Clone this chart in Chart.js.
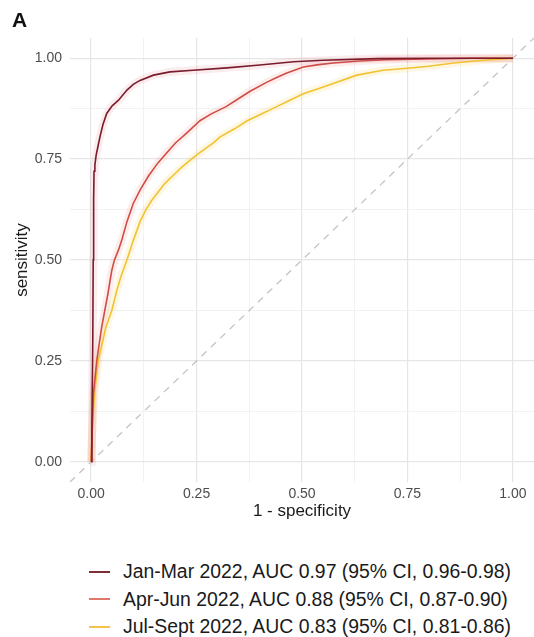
<!DOCTYPE html>
<html>
<head>
<meta charset="utf-8">
<script src="https://cdn.jsdelivr.net/npm/chart.js@4.4.0/dist/chart.umd.min.js"></script>
<style>
  body { margin: 0; background: #fff; font-family: "Liberation Sans", Arial, sans-serif; }
  #wrap { position: relative; width: 534px; height: 637px; overflow: hidden; }
  #chart { position: absolute; left: 0; top: 0; }
  #panel { position: absolute; left: 12px; top: 8px; font-size: 21px; font-weight: bold; color: #111; }
  #legend { position: absolute; left: 89px; top: 558px; }
  .row { display: flex; align-items: center; height: 27.5px; font-size: 19.4px; color: #1a1a1a; white-space: nowrap; }
  .key { width: 21px; height: 2px; margin-right: 13px; }
</style>
</head>
<body>
<div id="wrap">
  <canvas id="chart" width="534" height="530"></canvas>
  <div id="panel">A</div>
  <div id="legend"></div>
</div>
<script>
'use strict';

// ---- ROC curves (x = 1 - specificity, y = sensitivity) ----
const janMarFpr = [0, 0.002, 0.004, 0.005, 0.006, 0.007, 0.009, 0.012, 0.016, 0.021, 0.028, 0.037, 0.05, 0.065, 0.085, 0.1, 0.116, 0.148, 0.187, 0.242, 0.322, 0.40, 0.48, 0.55, 0.68, 0.8, 1.0];
const janMarTpr = [0, 0.10, 0.30, 0.50, 0.65, 0.72, 0.735, 0.76, 0.78, 0.805, 0.835, 0.863, 0.882, 0.896, 0.921, 0.935, 0.945, 0.958, 0.966, 0.970, 0.976, 0.983, 0.991, 0.995, 0.999, 1.0, 1.0];

const aprJunFpr = [0, 0.003, 0.0055, 0.0135, 0.025, 0.040, 0.049, 0.055, 0.065, 0.073, 0.085, 0.1, 0.117, 0.136, 0.158, 0.179, 0.2, 0.227, 0.258, 0.285, 0.32, 0.35, 0.377, 0.416, 0.44, 0.464, 0.503, 0.54, 0.574, 0.637, 0.7, 0.8, 0.9, 1.0];
const aprJunTpr = [0, 0.085, 0.168, 0.251, 0.333, 0.417, 0.474, 0.499, 0.525, 0.55, 0.595, 0.64, 0.675, 0.708, 0.74, 0.765, 0.79, 0.815, 0.845, 0.862, 0.88, 0.9, 0.918, 0.94, 0.952, 0.963, 0.978, 0.984, 0.988, 0.993, 0.996, 0.998, 1.0, 1.0];

const julSepFpr = [0, 0.003, 0.008, 0.017, 0.035, 0.049, 0.061, 0.071, 0.085, 0.1, 0.116, 0.13, 0.144, 0.175, 0.2, 0.215, 0.24, 0.26, 0.29, 0.306, 0.34, 0.37, 0.4, 0.44, 0.47, 0.503, 0.54, 0.574, 0.63, 0.692, 0.75, 0.8, 0.86, 0.93, 1.0];
const julSepTpr = [0, 0.085, 0.168, 0.251, 0.333, 0.375, 0.425, 0.46, 0.5, 0.548, 0.595, 0.625, 0.648, 0.69, 0.715, 0.73, 0.752, 0.768, 0.79, 0.805, 0.825, 0.845, 0.86, 0.88, 0.895, 0.912, 0.925, 0.937, 0.958, 0.97, 0.975, 0.98, 0.988, 0.995, 1.0];

const seriesLabels = [
  'Jan-Mar 2022, AUC 0.97 (95% CI, 0.96-0.98)',
  'Apr-Jun 2022, AUC 0.88 (95% CI, 0.87-0.90)',
  'Jul-Sept 2022, AUC 0.83 (95% CI, 0.81-0.86)',
];
const diagX = [-0.05, 1.05];
const tickValues = [0, 0.125, 0.25, 0.375, 0.5, 0.625, 0.75, 0.875, 1];

const LINE_COLORS = ['#7a1c2c', '#cf4d46', '#f1c232'];
const KEY_COLORS  = ['#7d2d38', '#e0786a', '#f5c24c'];
const BAND_COLORS = ['rgba(225,110,120,0.13)', 'rgba(235,120,110,0.13)', 'rgba(250,205,80,0.16)'];
const FONT = '"Liberation Sans", Arial, sans-serif';

function pts(xs, ys) { return xs.map((x, i) => ({ x, y: ys[i] })); }
const isMajor = v => Math.abs(v * 4 - Math.round(v * 4)) < 1e-9;

const curves = [pts(janMarFpr, janMarTpr), pts(aprJunFpr, aprJunTpr), pts(julSepFpr, julSepTpr)];

const datasets = [];
curves.forEach((d, i) => datasets.push({
  label: seriesLabels[i], data: d, borderColor: LINE_COLORS[i], borderWidth: 1.6,
  pointRadius: 0, tension: 0, fill: false,
}));
datasets.push({
  label: 'chance', data: pts(diagX, diagX), borderColor: '#c4c4c4', borderWidth: 1.3,
  borderDash: [7, 6], pointRadius: 0,
});
curves.forEach((d, i) => datasets.push({
  label: 'band', data: d, borderColor: BAND_COLORS[i], borderWidth: 8,
  pointRadius: 0, tension: 0, fill: false,
}));

function axis(titleText, extra) {
  return Object.assign({
    type: 'linear', min: -0.05, max: 1.05,
    afterBuildTicks: s => { s.ticks = tickValues.map(v => ({ value: v })); },
    border: { display: false },
    grid: {
      drawTicks: false,
      color: c => (c.tick && isMajor(c.tick.value)) ? '#e6e6e6' : '#efefef',
      lineWidth: c => (c.tick && isMajor(c.tick.value)) ? 1.2 : 0.8,
    },
    ticks: {
      autoSkip: false, maxRotation: 0, color: '#4d4d4d',
      font: { family: FONT, size: 14 },
      callback: v => isMajor(v) ? v.toFixed(2) : '',
    },
    title: { display: true, text: titleText, color: '#1a1a1a', font: { family: FONT, size: 17 } },
  }, extra);
}

const xAxis = axis('1 - specificity', { afterFit: s => { s.height = 48; } });
xAxis.ticks.padding = 4;
xAxis.title.padding = { top: 0, bottom: 8 };
const yAxis = axis('sensitivity', { afterFit: s => { s.width = 70; } });
yAxis.ticks.padding = 8;
yAxis.title.padding = { top: 12, bottom: 0 };

new Chart(document.getElementById('chart'), {
  type: 'line',
  data: { datasets },
  options: {
    responsive: false,
    animation: false,
    layout: { padding: { top: 38, right: 0, bottom: 0, left: 0 } },
    plugins: { legend: { display: false }, tooltip: { enabled: false } },
    scales: { x: xAxis, y: yAxis },
  },
});

// ---- Legend ----
const legend = document.getElementById('legend');
seriesLabels.forEach((t, i) => {
  const row = document.createElement('div');
  row.className = 'row';
  row.innerHTML = `<span class="key" style="background:${KEY_COLORS[i]}"></span><span>${t}</span>`;
  legend.appendChild(row);
});
</script>
</body>
</html>
